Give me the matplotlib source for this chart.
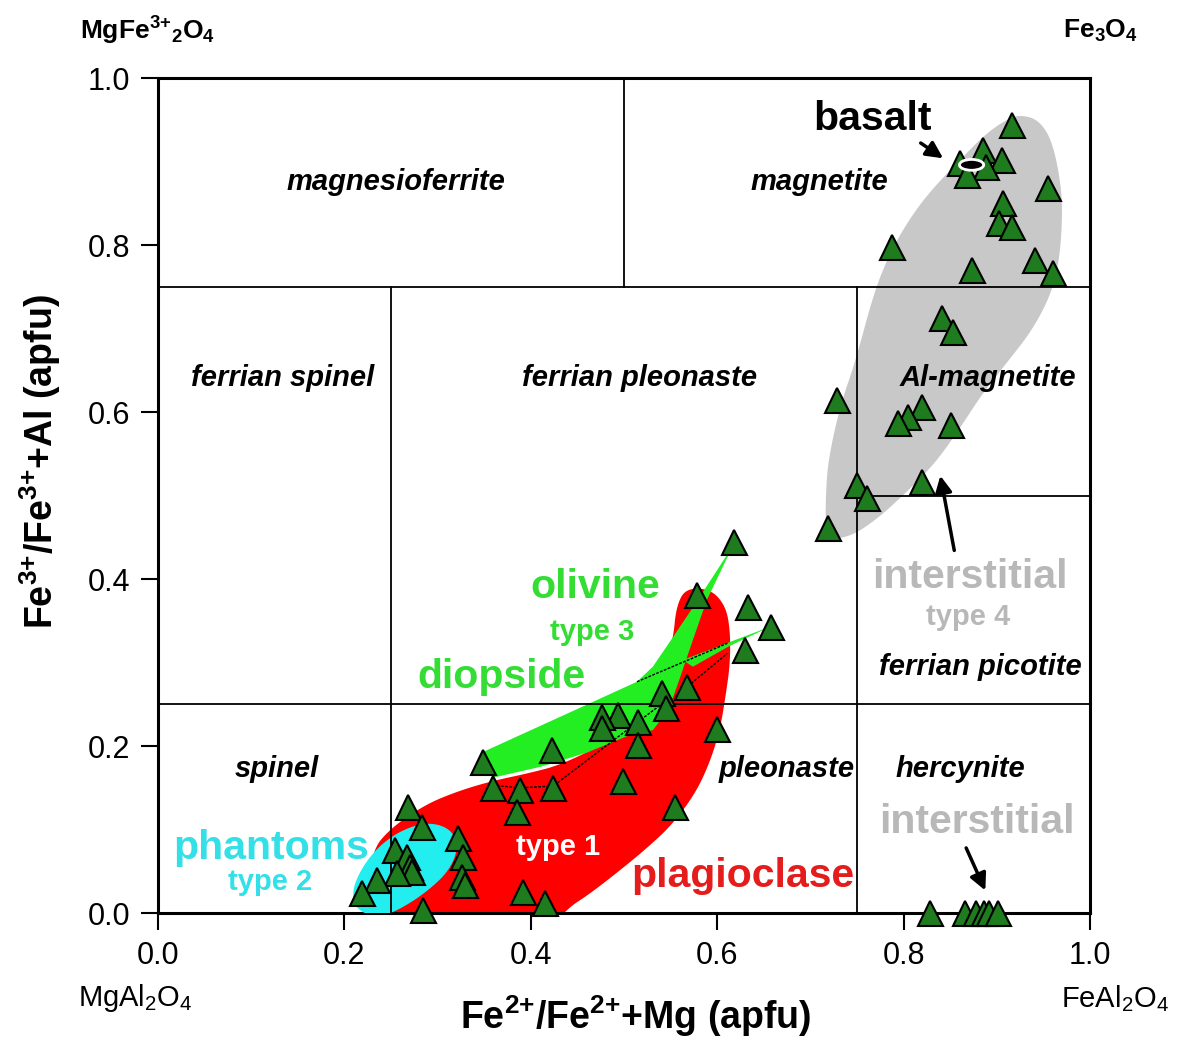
import numpy as np
import matplotlib
matplotlib.use("Agg")
import matplotlib.pyplot as plt
from matplotlib.patches import Ellipse

plt.rcParams['font.family'] = ['Liberation Sans', 'DejaVu Sans']
plt.rcParams['mathtext.fontset'] = 'custom'
plt.rcParams['mathtext.rm'] = 'Liberation Sans'
plt.rcParams['mathtext.bf'] = 'Liberation Sans:bold'
plt.rcParams['mathtext.it'] = 'Liberation Sans:italic'
plt.rcParams['mathtext.default'] = 'bf'

# analysed spinel grains, Fe2+/(Fe2++Mg) vs Fe3+/(Fe3++Al)
x_pts = [0.916, 0.861, 0.885, 0.906, 0.889, 0.868, 0.955, 0.907, 0.902, 0.916,
         0.788, 0.874, 0.941, 0.960, 0.841, 0.853, 0.729, 0.820, 0.805, 0.794,
         0.851, 0.750, 0.761, 0.820, 0.719,
         0.618, 0.578, 0.633, 0.658, 0.630, 0.568, 0.541, 0.545, 0.494, 0.476,
         0.476, 0.515, 0.515, 0.600, 0.499, 0.555,
         0.349, 0.423, 0.360, 0.388, 0.385, 0.424, 0.268, 0.283, 0.322, 0.327,
         0.326, 0.330, 0.254, 0.267, 0.270, 0.273, 0.256, 0.235, 0.219, 0.284,
         0.392, 0.415,
         0.828, 0.866, 0.878, 0.886, 0.892, 0.901]
y_pts = [0.944, 0.898, 0.914, 0.902, 0.893, 0.884, 0.868, 0.850, 0.826, 0.822,
         0.798, 0.770, 0.782, 0.766, 0.713, 0.696, 0.614, 0.606, 0.594, 0.587,
         0.584, 0.513, 0.497, 0.516, 0.461,
         0.444, 0.381, 0.366, 0.343, 0.315, 0.271, 0.263, 0.245, 0.237, 0.235,
         0.222, 0.229, 0.201, 0.220, 0.158, 0.127,
         0.181, 0.195, 0.150, 0.147, 0.121, 0.150, 0.127, 0.103, 0.090, 0.067,
         0.043, 0.034, 0.075, 0.067, 0.055, 0.049, 0.048, 0.040, 0.024, 0.004,
         0.025, 0.012,
         0.0, 0.0, 0.0, 0.0, 0.0, 0.0]

# outlines of the inclusion fields
gray_x = [0.716, 0.717, 0.722, 0.733, 0.748, 0.769, 0.787, 0.808, 0.830, 0.859, 0.887,
          0.910, 0.925, 0.945, 0.960, 0.970, 0.970, 0.966, 0.957, 0.938, 0.913, 0.887,
          0.859, 0.834, 0.806, 0.772, 0.742]
gray_y = [0.448, 0.519, 0.558, 0.611, 0.659, 0.746, 0.794, 0.834, 0.866, 0.900, 0.932,
          0.950, 0.956, 0.950, 0.924, 0.866, 0.818, 0.774, 0.738, 0.698, 0.662, 0.626,
          0.578, 0.539, 0.507, 0.472, 0.450]

red_x = [0.224, 0.229, 0.250, 0.287, 0.322, 0.358, 0.396, 0.431, 0.474, 0.517, 0.539,
         0.553, 0.556, 0.566, 0.593, 0.609, 0.614, 0.614, 0.609, 0.603, 0.592, 0.577,
         0.552, 0.523, 0.490, 0.462, 0.440, 0.420, 0.313, 0.240]
red_y = [0.005, 0.074, 0.102, 0.130, 0.146, 0.158, 0.167, 0.177, 0.200, 0.231, 0.269,
         0.329, 0.366, 0.389, 0.388, 0.368, 0.339, 0.299, 0.259, 0.219, 0.180, 0.144,
         0.106, 0.076, 0.046, 0.022, 0.006, -0.02, -0.03, -0.02]

green_x = [0.349, 0.467, 0.514, 0.531, 0.553, 0.574, 0.595, 0.617, 0.589, 0.574, 0.563,
           0.553, 0.542, 0.531, 0.506, 0.460, 0.410, 0.359]
green_y = [0.193, 0.253, 0.277, 0.295, 0.331, 0.366, 0.402, 0.440, 0.375, 0.327, 0.291,
           0.259, 0.235, 0.219, 0.213, 0.192, 0.175, 0.162]
green2_x = [0.563, 0.657, 0.612, 0.574]
green2_y = [0.303, 0.343, 0.319, 0.295]

cyan_x = [0.208, 0.217, 0.235, 0.259, 0.288, 0.313, 0.323, 0.313, 0.288, 0.259, 0.235, 0.213]
cyan_y = [0.025, 0.051, 0.078, 0.098, 0.109, 0.102, 0.081, 0.051, 0.025, 0.004, -0.006, 0.004]

# dashed tie lines
tie_lines = [([0.514, 0.611], [0.277, 0.323]),
             ([0.555, 0.611], [0.259, 0.311]),
             ([0.359, 0.388, 0.424, 0.496, 0.539], [0.153, 0.150, 0.152, 0.213, 0.249])]


def chaikin(xs, ys, n=3):
    p = np.column_stack([xs, ys])
    for _ in range(n):
        q = np.roll(p, -1, axis=0)
        new = np.empty((2 * len(p), 2))
        new[0::2] = 0.75 * p + 0.25 * q
        new[1::2] = 0.25 * p + 0.75 * q
        p = new
    return p


fig = plt.figure(figsize=(11.77, 10.43), dpi=100)
ax = fig.add_axes([0.1342, 0.1246, 0.7918, 0.8006])

g = chaikin(gray_x, gray_y)
ax.fill(g[:, 0], g[:, 1], color='#c8c8c8', lw=0, zorder=1)
r = chaikin(red_x, red_y)
ax.fill(r[:, 0], r[:, 1], color='#ff0000', lw=0, zorder=2)
ax.fill(green_x, green_y, color='#22ee22', lw=0, zorder=3)
ax.fill(green2_x, green2_y, color='#22ee22', lw=0, zorder=3)
c = chaikin(cyan_x, cyan_y)
ax.fill(c[:, 0], c[:, 1], color='#22eef0', lw=0, zorder=4)

# classification fields
lk = dict(color='black', lw=1.3, zorder=5)
ax.plot([0, 1], [0.75, 0.75], **lk)
ax.plot([0, 1], [0.25, 0.25], **lk)
ax.plot([0.75, 1], [0.5, 0.5], **lk)
ax.plot([0.5, 0.5], [0.75, 1], **lk)
ax.plot([0.25, 0.25], [0, 0.75], **lk)
ax.plot([0.75, 0.75], [0, 0.75], **lk)

for tx, ty in tie_lines:
    ax.plot(tx, ty, color='black', lw=1.0, ls=(0, (2, 1)), zorder=6)

fk = dict(fontsize=21, fontweight='bold', fontstyle='italic', ha='center', va='center', zorder=7)
ax.text(0.255, 0.875, 'magnesioferrite', **fk)
ax.text(0.710, 0.875, 'magnetite', **fk)
ax.text(0.134, 0.641, 'ferrian spinel', **fk)
ax.text(0.517, 0.641, 'ferrian pleonaste', **fk)
ax.text(0.891, 0.641, 'Al-magnetite', **fk)
ax.text(0.882, 0.295, 'ferrian picotite', **fk)
ax.text(0.128, 0.172, 'spinel', **fk)
ax.text(0.675, 0.172, 'pleonaste', **fk)
ax.text(0.861, 0.172, 'hercynite', **fk)

bk = dict(fontsize=29.5, fontweight='bold', ha='center', va='center', zorder=7)
sk = dict(fontsize=21, fontweight='bold', ha='center', va='center', zorder=7)
ax.text(0.767, 0.951, 'basalt', color='black', **bk)
ax.text(0.469, 0.390, 'olivine', color='#33dd33', **bk)
ax.text(0.466, 0.337, 'type 3', color='#33dd33', **sk)
ax.text(0.369, 0.283, 'diopside', color='#33dd33', **bk)
ax.text(0.122, 0.078, 'phantoms', color='#33e0e8', **bk)
ax.text(0.120, 0.037, 'type 2', color='#33e0e8', **sk)
ax.text(0.429, 0.079, 'type 1', color='white', **sk)
ax.text(0.628, 0.044, 'plagioclase', color='#e41c1c', **bk)
ax.text(0.871, 0.402, 'interstitial', color='#b8b8b8', **bk)
ax.text(0.869, 0.354, 'type 4', color='#b8b8b8', **sk)
ax.text(0.879, 0.109, 'interstitial', color='#b8b8b8', **bk)

ak = dict(arrowstyle='-|>,head_width=0.5,head_length=1.0', color='black', lw=2.5)
ax.annotate('', xy=(0.845, 0.902), xytext=(0.816, 0.924), arrowprops=ak, zorder=7)
ax.annotate('', xy=(0.839, 0.527), xytext=(0.855, 0.431), arrowprops=ak, zorder=7)
ax.annotate('', xy=(0.889, 0.024), xytext=(0.866, 0.081), arrowprops=ak, zorder=7)

ax.plot(x_pts, y_pts, ls='none', marker='^', ms=18, mfc='#1e7b1e', mec='black',
        mew=1.5, zorder=8, clip_on=False)

# basalt bulk composition
ax.add_patch(Ellipse((0.873, 0.896), 0.026, 0.013, facecolor='black', edgecolor='white',
                     lw=2, zorder=9))

ax.set_xlim(0, 1)
ax.set_ylim(0, 1)
ax.set_xticks([0, 0.2, 0.4, 0.6, 0.8, 1.0])
ax.set_yticks([0, 0.2, 0.4, 0.6, 0.8, 1.0])
ax.set_xticklabels(['0.0', '0.2', '0.4', '0.6', '0.8', '1.0'])
ax.set_yticklabels(['0.0', '0.2', '0.4', '0.6', '0.8', '1.0'])
ax.tick_params(direction='out', length=12, width=1.5, labelsize=22, pad=8)
for s in ax.spines.values():
    s.set_linewidth(2.2)

fig.text(0.540, 0.026, r'Fe$^{2{+}}$/Fe$^{2{+}}$+Mg (apfu)', fontsize=27,
         fontweight='bold', ha='center', va='center')
fig.text(0.034, 0.557, r'Fe$^{3{+}}$/Fe$^{3{+}}$+Al (apfu)', fontsize=27,
         fontweight='bold', ha='center', va='center', rotation=90)

fig.text(0.125, 0.970, r'MgFe$^{3{+}}$$_{2}$O$_{4}$', fontsize=19,
         fontweight='bold', ha='center', va='center')
fig.text(0.935, 0.970, r'Fe$_{3}$O$_{4}$', fontsize=19,
         fontweight='bold', ha='center', va='center')
fig.text(0.115, 0.043, r'MgAl$_{\mathrm{2}}$O$_{\mathrm{4}}$', fontsize=21,
         ha='center', va='center')
fig.text(0.947, 0.043, r'FeAl$_{\mathrm{2}}$O$_{\mathrm{4}}$', fontsize=21,
         ha='center', va='center')

fig.savefig('out.png', dpi=100)
